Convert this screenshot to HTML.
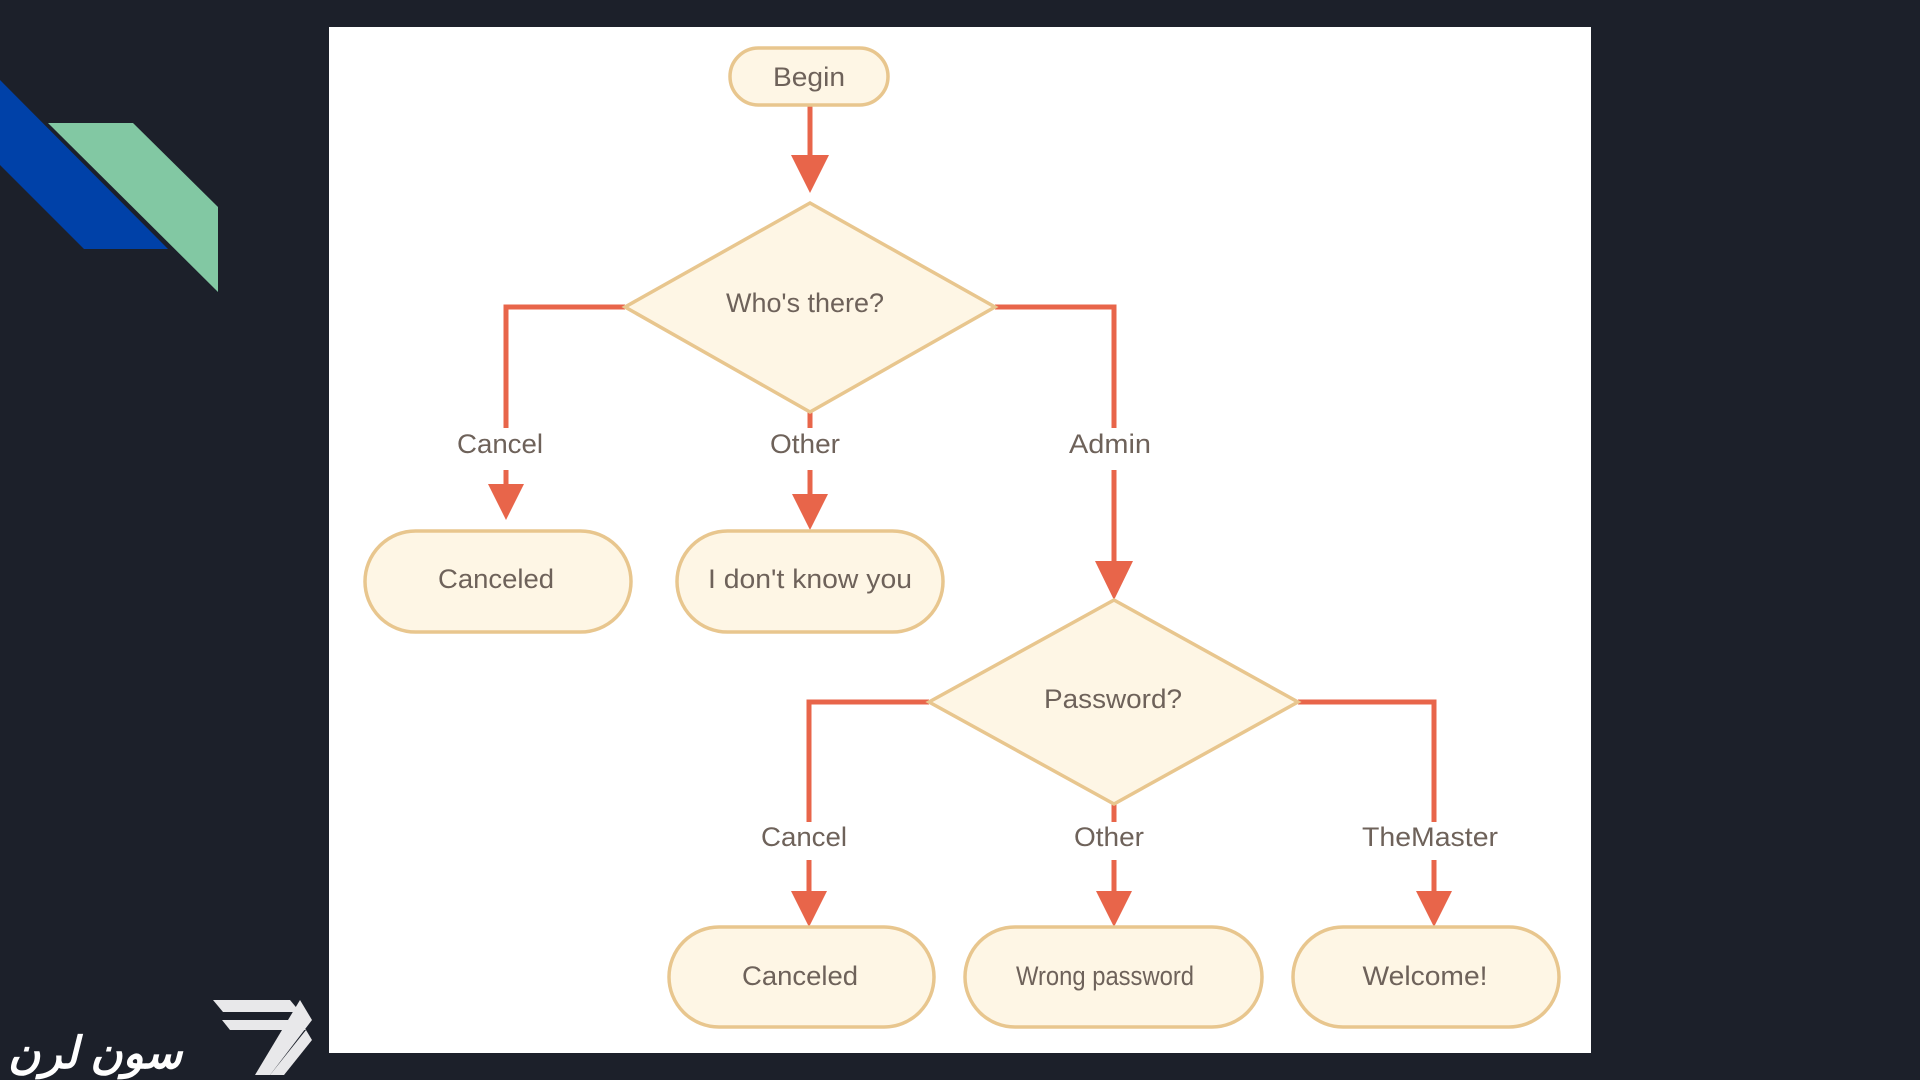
<!DOCTYPE html>
<html><head><meta charset="utf-8"><style>
html,body{margin:0;padding:0;background:#1c202a;width:1920px;height:1080px;overflow:hidden}
svg{display:block}
text{font-family:"Liberation Sans",Arial,sans-serif;fill:#6e625a}
</style></head><body>
<svg width="1920" height="1080" viewBox="0 0 1920 1080">
<rect width="1920" height="1080" fill="#1c202a"/>
<polygon points="0,80 0,165 84,249 168,249" fill="#0041a8"/>
<polygon points="48,123 133,123 218,207 218,292" fill="#82c8a3"/>
<g fill="#e8e8ea">
<polygon points="213,1000 290,1000 300,1012 223,1012"/>
<polygon points="222,1020 298,1020 306,1030 230,1030"/>
<polygon points="300,1000 312,1020 270,1075 255,1075"/>
<polygon points="306,1030 312,1040 284,1075 270,1075"/>
</g>
<text x="8" y="1068" font-size="44" font-style="italic" font-weight="bold" style="fill:#ffffff" font-family="'Liberation Sans','Noto Sans CJK SC',sans-serif">سون لرن</text>
<rect x="329" y="27" width="1262" height="1026" fill="#ffffff"/>
<g fill="none" stroke="#e8654a" stroke-width="5">
<line x1="810" y1="105" x2="810" y2="160"/>
<polyline points="625,307 506,307 506,428"/>
<line x1="506" y1="470" x2="506" y2="490"/>
<line x1="810" y1="412" x2="810" y2="428"/>
<line x1="810" y1="470" x2="810" y2="500"/>
<polyline points="995,307 1114,307 1114,428"/>
<line x1="1114" y1="470" x2="1114" y2="565"/>
<polyline points="929,702 809,702 809,822"/>
<line x1="809" y1="860" x2="809" y2="895"/>
<polyline points="1298,702 1434,702 1434,822"/>
<line x1="1434" y1="860" x2="1434" y2="895"/>
<line x1="1114" y1="804" x2="1114" y2="822"/>
<line x1="1114" y1="860" x2="1114" y2="895"/>
</g>
<g fill="#e8654a">
<polygon points="791,155 829,155 810,193"/>
<polygon points="488,484 524,484 506,520"/>
<polygon points="792,494 828,494 810,530"/>
<polygon points="1095,561 1133,561 1114,600"/>
<polygon points="791,891 827,891 809,927"/>
<polygon points="1096,891 1132,891 1114,927"/>
<polygon points="1416,891 1452,891 1434,927"/>
</g>
<g fill="#fef6e5" stroke="#e8c68e" stroke-width="3.5">
<rect x="730" y="48" width="158" height="57" rx="28.5"/>
<polygon points="810,203 995,307 810,412 625,307"/>
<rect x="365" y="531" width="266" height="101" rx="50.5"/>
<rect x="677" y="531" width="266" height="101" rx="50.5"/>
<polygon points="1114,600 1298,702 1114,804 929,702"/>
<rect x="669" y="927" width="265" height="100" rx="50"/>
<rect x="965" y="927" width="297" height="100" rx="50"/>
<rect x="1293" y="927" width="266" height="100" rx="50"/>
</g>
<g font-size="27" text-anchor="middle">
<text x="809" y="86" textLength="72" lengthAdjust="spacingAndGlyphs">Begin</text>
<text x="805" y="312" textLength="158" lengthAdjust="spacingAndGlyphs">Who's there?</text>
<text x="500" y="453" textLength="86" lengthAdjust="spacingAndGlyphs">Cancel</text>
<text x="805" y="453" textLength="70" lengthAdjust="spacingAndGlyphs">Other</text>
<text x="1110" y="453" textLength="82" lengthAdjust="spacingAndGlyphs">Admin</text>
<text x="496" y="588" textLength="116" lengthAdjust="spacingAndGlyphs">Canceled</text>
<text x="810" y="588" textLength="204" lengthAdjust="spacingAndGlyphs">I don't know you</text>
<text x="1113" y="708" textLength="138" lengthAdjust="spacingAndGlyphs">Password?</text>
<text x="804" y="846" textLength="86" lengthAdjust="spacingAndGlyphs">Cancel</text>
<text x="1109" y="846" textLength="70" lengthAdjust="spacingAndGlyphs">Other</text>
<text x="1430" y="846" textLength="136" lengthAdjust="spacingAndGlyphs">TheMaster</text>
<text x="800" y="985" textLength="116" lengthAdjust="spacingAndGlyphs">Canceled</text>
<text x="1105" y="985" textLength="178" lengthAdjust="spacingAndGlyphs">Wrong password</text>
<text x="1425" y="985" textLength="125" lengthAdjust="spacingAndGlyphs">Welcome!</text>
</g>
</svg>
</body></html>
